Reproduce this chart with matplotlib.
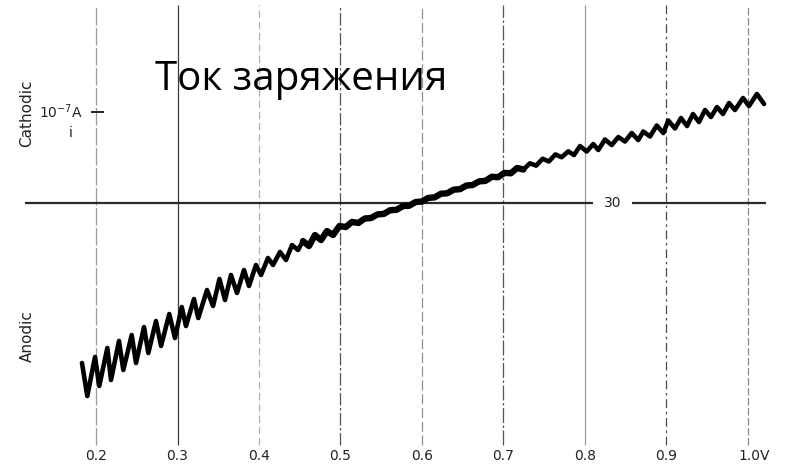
import matplotlib.pyplot as plt

# charging current trace: potential (V) and current (units of 1e-7 A)
# anodic part, strong oscillation
v_low = [0.1828, 0.1893, 0.1988, 0.2040, 0.2139, 0.2184, 0.2282, 0.2335, 0.2438, 0.2491,
         0.2589, 0.2642, 0.2736, 0.2798, 0.2899, 0.2969, 0.3052, 0.3104, 0.3202, 0.3255,
         0.3362, 0.3436, 0.3515, 0.3583, 0.3656, 0.3730, 0.3816, 0.3877, 0.3963, 0.4025,
         0.4110, 0.4172, 0.4258, 0.4331, 0.4405, 0.4479, 0.4540, 0.4613, 0.4687, 0.4761,
         0.4834, 0.4908]
i_low = [-1.758, -2.121, -1.692, -2.011, -1.593, -1.945, -1.516, -1.835, -1.451, -1.758,
         -1.363, -1.648, -1.297, -1.571, -1.220, -1.484, -1.143, -1.352, -1.055, -1.264,
         -0.956, -1.132, -0.835, -1.066, -0.791, -0.989, -0.736, -0.912, -0.681, -0.791,
         -0.604, -0.681, -0.538, -0.626, -0.462, -0.516, -0.418, -0.473, -0.352, -0.407,
         -0.308, -0.352]

# middle part, almost flat ripple around zero crossing
v_mid = [0.4987, 0.5064, 0.5142, 0.5220, 0.5298, 0.5375, 0.5454, 0.5531, 0.5610, 0.5687,
         0.5766, 0.5843, 0.5922, 0.5999, 0.6077, 0.6155, 0.6233, 0.6310, 0.6389, 0.6466,
         0.6545, 0.6622, 0.6701, 0.6778, 0.6856, 0.6934, 0.7012, 0.7090, 0.7168, 0.7245,
         0.7324, 0.7401, 0.7480, 0.7557, 0.7636, 0.7713]
i_mid = [-0.253, -0.264, -0.208, -0.219, -0.170, -0.165, -0.125, -0.120, -0.079, -0.075,
         -0.034, -0.030, 0.011, 0.016, 0.056, 0.062, 0.102, 0.107, 0.147, 0.152,
         0.192, 0.198, 0.238, 0.243, 0.288, 0.284, 0.331, 0.327, 0.385, 0.368,
         0.436, 0.411, 0.487, 0.456, 0.534, 0.503]

# cathodic part
v_high = [0.7795, 0.7865, 0.7939, 0.8021, 0.8102, 0.8163, 0.8245, 0.8328, 0.8409, 0.8491,
          0.8573, 0.8654, 0.8715, 0.8798, 0.8880, 0.8961, 0.9022, 0.9104, 0.9178, 0.9252,
          0.9325, 0.9399, 0.9473, 0.9546, 0.9620, 0.9693, 0.9767, 0.9840, 0.9939, 1.0012,
          1.0110, 1.0197]
i_high = [0.568, 0.527, 0.626, 0.566, 0.648, 0.582, 0.698, 0.637, 0.725, 0.676,
          0.769, 0.692, 0.786, 0.731, 0.852, 0.769, 0.907, 0.819, 0.934, 0.846,
          0.978, 0.890, 1.022, 0.945, 1.055, 0.978, 1.099, 1.022, 1.154, 1.066,
          1.198, 1.088]

grid_v = [0.2, 0.3, 0.4, 0.5, 0.6, 0.7, 0.8, 0.9, 1.0]
grid_labels = ['0.2', '0.3', '0.4', '0.5', '0.6', '0.7', '0.8', '0.9', '1.0V']
# each chart-paper line is printed a little differently
grid_style = [('#9a9a9a', (0, (14, 2))), ('#3a3a3a', '-'), ('#b0b0b0', (0, (6, 3))),
              ('#505050', (0, (10, 2, 2, 2))), ('#909090', (0, (8, 3))),
              ('#555555', (0, (12, 2, 2, 2))), ('#9c9c9c', '-'),
              ('#4c4c4c', (0, (7, 3, 2, 3))), ('#8a8a8a', (0, (6, 2)))]

fig = plt.figure(figsize=(7.88, 4.70), dpi=100)
ax = fig.add_axes([0, 0, 1, 1])
ax.set_xlim(0.0822, 1.0491)
ax.set_ylim(-2.934, 2.231)
ax.axis('off')

for v, (col, ls) in zip(grid_v, grid_style):
    ax.vlines(v, -2.659, 2.176, colors=col, linestyles=[ls], linewidth=0.9)

# zero line, broken by the chart number
ax.hlines(0, 0.1129, 0.8098, colors='#2a2a2a', linewidth=1.6)
ax.hlines(0, 0.8577, 1.0221, colors='#2a2a2a', linewidth=1.6)
ax.text(0.8344, 0, '30', ha='center', va='center', fontsize=10, color='#222')

# current scale mark
ax.hlines(1.0, 0.1944, 0.2092, colors='#222', linewidth=1.4)

v_all = v_low + v_mid + v_high
i_all = i_low + i_mid + i_high
ax.plot(v_all, i_all, color='black', linewidth=3.3,
        solid_joinstyle='round', solid_capstyle='round')
# the pen trace is heavier where the ripple collapses
ax.plot(v_low[-6:] + v_mid[:30], i_low[-6:] + i_mid[:30], color='black', linewidth=4.6,
        solid_joinstyle='round', solid_capstyle='round')

for v, lab in zip(grid_v, grid_labels):
    if lab.endswith('V'):
        ax.text(v - 0.0123, -2.78, lab, ha='left', va='center', fontsize=10, color='#222')
    else:
        ax.text(v, -2.78, lab, ha='center', va='center', fontsize=10, color='#222')

ax.text(83 / 788, 1 - 112 / 470, r'10$^{-7}$A', transform=ax.transAxes,
        ha='right', va='center', fontsize=10, color='#222')
ax.text(71 / 788, 1 - 133 / 470, 'i', transform=ax.transAxes,
        ha='center', va='center', fontsize=10, color='#222')
ax.text(27 / 788, 1 - 113 / 470, 'Cathodic', transform=ax.transAxes, rotation=90,
        ha='center', va='center', fontsize=11, color='#222')
ax.text(27 / 788, 1 - 336 / 470, 'Anodic', transform=ax.transAxes, rotation=90,
        ha='center', va='center', fontsize=11, color='#222')

ax.text(155 / 788, 1 - 90 / 470, 'Ток заряжения', transform=ax.transAxes,
        ha='left', va='baseline', fontsize=29, family=['Open Sans', 'DejaVu Sans'],
        color='black')

fig.savefig('out.png', dpi=100)
